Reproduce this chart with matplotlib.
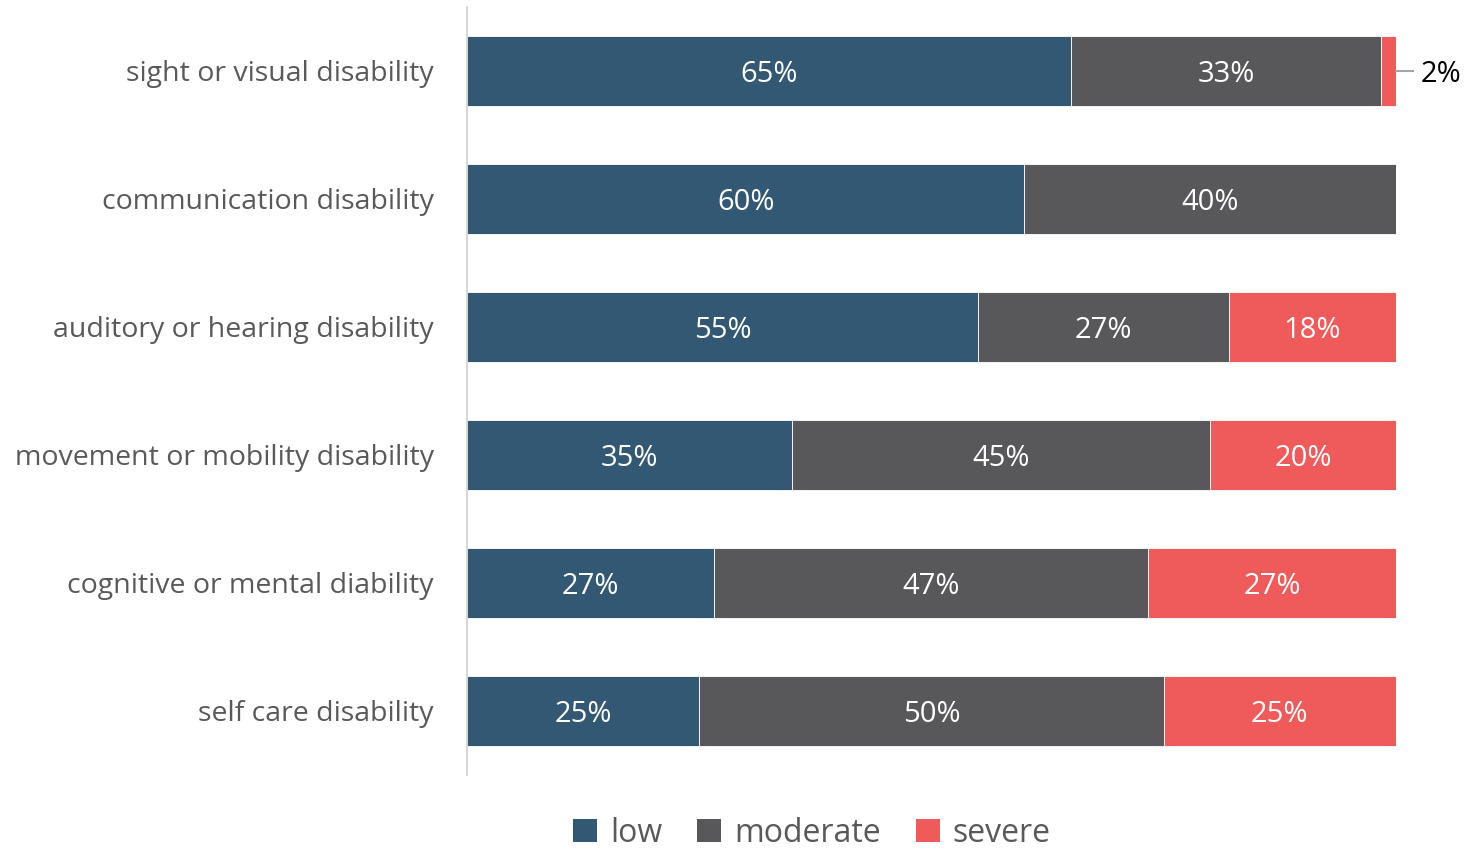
import matplotlib.pyplot as plt
from matplotlib.patches import Patch

plt.rcParams['font.family'] = ['Open Sans', 'DejaVu Sans']

categories = [
    "sight or visual disability",
    "communication disability",
    "auditory or hearing disability",
    "movement or mobility disability",
    "cognitive or mental diability",
    "self care disability",
]
series_names = ["low", "moderate", "severe"]
low = [65.0, 60.0, 55.0, 35.0, 26.6, 25.0]
moderate = [33.4, 40.0, 27.0, 45.0, 46.7, 50.0]
severe = [1.6, 0.0, 18.0, 20.0, 26.7, 25.0]
colors = ["#325874", "#58585a", "#ef5a5a"]

W, H = 1465, 851
fig = plt.figure(figsize=(W / 100, H / 100), dpi=100)
ax = fig.add_axes([467 / W, 1 - 775 / H, (1396 - 467) / W, (775 - 7) / H])

ypos = list(range(len(categories)))
left = [0.0] * len(categories)
for name, vals, col in zip(series_names, [low, moderate, severe], colors):
    ax.barh(ypos, vals, left=left, height=0.55, color=col,
            edgecolor="white", linewidth=0.6, label=name)
    for i, v in enumerate(vals):
        if v <= 0:
            continue
        label = f"{round(v):d}%"
        if v >= 5:
            ax.text(left[i] + v / 2, i, label, ha="center", va="center_baseline",
                    color="white", fontsize=21)
        else:
            ax.plot([left[i] + v, 101.8], [i, i], color="#a6a6a6",
                    linewidth=1.5, clip_on=False)
            ax.text(102.6, i, label, ha="left", va="center_baseline",
                    color="black", fontsize=21, clip_on=False)
    left = [a + b for a, b in zip(left, vals)]

ax.set_xlim(0, 100)
ax.set_ylim(len(categories) - 0.5, -0.5)
ax.set_yticks(ypos)
ax.set_yticklabels(categories, fontsize=20.5, color="#595959")
ax.tick_params(axis="y", length=0, pad=24)
ax.set_xticks([])
for s in ["top", "right", "bottom"]:
    ax.spines[s].set_visible(False)
ax.spines["left"].set_color("#d0d0d0")
ax.spines["left"].set_linewidth(1.2)

handles = [Patch(facecolor=c, label=n) for n, c in zip(series_names, colors)]
fig.legend(handles=handles, loc="center", bbox_to_anchor=(812 / W, 1 - 833 / H),
           ncol=3, frameon=False, fontsize=23, labelcolor="#595959",
           handlelength=0.75, handleheight=0.75, handletextpad=0.4,
           columnspacing=1.1, borderpad=0.2)

fig.savefig("out.png", dpi=100)
